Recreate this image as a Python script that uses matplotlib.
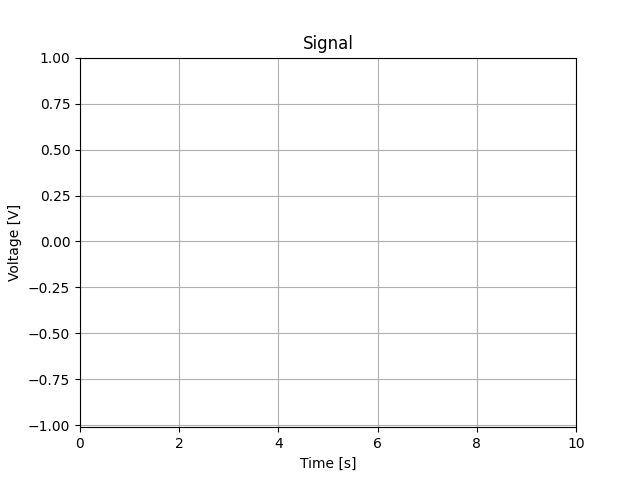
import matplotlib
matplotlib.use("Agg")
import matplotlib.pyplot as plt

title = "Signal"
x_label = "Time [s]"
y_label = "Voltage [V]"
x_range = [0, 10]
y_range = [-1.01, 1.0]

fig, ax = plt.subplots(figsize=(6.4, 4.8), dpi=100)
ax.set_xlim(x_range)
ax.set_ylim(y_range)
ax.set_title(title)
ax.set_xlabel(x_label)
ax.set_ylabel(y_label)
ax.grid(True)
fig.savefig("out.png")
